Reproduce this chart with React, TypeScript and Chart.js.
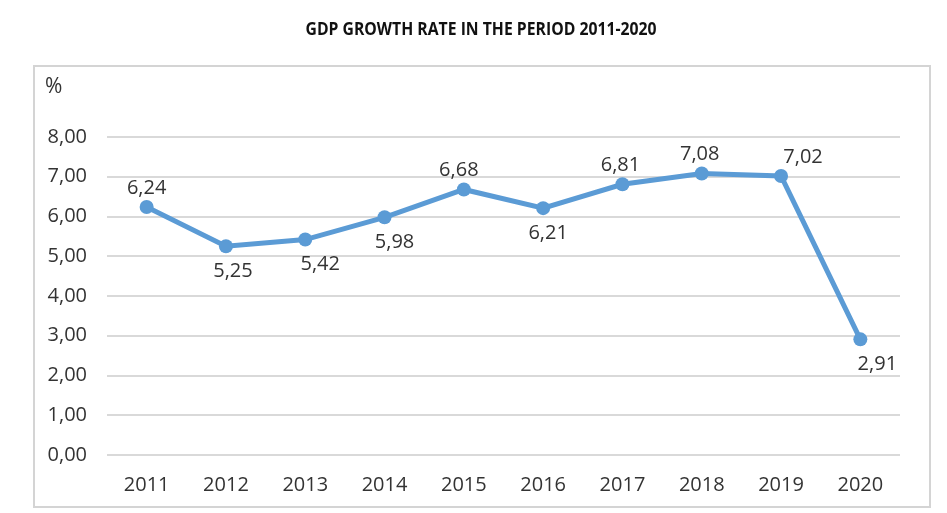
import React, { useEffect, useRef } from "react";
import { Chart, registerables } from "chart.js";

Chart.register(...registerables);

const TITLE = "GDP GROWTH RATE IN THE PERIOD 2011-2020";
const UNIT_LABEL = "%";
const YEARS = ["2011", "2012", "2013", "2014", "2015", "2016", "2017", "2018", "2019", "2020"];
const GDP_GROWTH = [6.24, 5.25, 5.42, 5.98, 6.68, 6.21, 6.81, 7.08, 7.02, 2.91];
// label placement per point: "a" above, "b" below
const LABEL_SIDE = ["a", "b", "b", "b", "a", "b", "a", "a", "a", "b"];
const LABEL_DX = [0, 7, 15, 10, -5, 5, -2, -2, 22, 17];

const FONT = "'Open Sans', sans-serif";
const TEXT_COLOR = "#333333";

const fmt = (v: number) => v.toFixed(2).replace(".", ",");

export default function App() {
  const ref = useRef<HTMLCanvasElement | null>(null);

  useEffect(() => {
    if (!ref.current) return;
    const decor = {
      id: "decor",
      beforeDraw(chart: any) {
        const ctx = chart.ctx;
        ctx.save();
        ctx.fillStyle = "#ffffff";
        ctx.fillRect(0, 0, chart.width, chart.height);
        ctx.strokeStyle = "#d4d4d4";
        ctx.lineWidth = 2;
        ctx.strokeRect(34, 66, 896, 441);
        // title
        ctx.font = `bold 17px ${FONT}`;
        ctx.fillStyle = "#111111";
        ctx.textAlign = "center";
        ctx.textBaseline = "alphabetic";
        const w = ctx.measureText(TITLE).width;
        const sx = 351 / w;
        ctx.translate(481, 35);
        ctx.scale(sx, 1);
        ctx.fillText(TITLE, 0, 0);
        ctx.restore();
        ctx.save();
        ctx.font = `21px ${FONT}`;
        ctx.fillStyle = TEXT_COLOR;
        ctx.textAlign = "left";
        ctx.textBaseline = "middle";
        ctx.fillText(UNIT_LABEL, 45, 87);
        ctx.restore();
      },
      afterDatasetsDraw(chart: any) {
        const ctx = chart.ctx;
        const meta = chart.getDatasetMeta(0);
        ctx.save();
        ctx.font = `20px ${FONT}`;
        ctx.fillStyle = TEXT_COLOR;
        ctx.textAlign = "center";
        ctx.textBaseline = "middle";
        meta.data.forEach((pt: any, i: number) => {
          const dy = LABEL_SIDE[i] === "a" ? -19 : 25;
          ctx.fillText(fmt(GDP_GROWTH[i]), pt.x + LABEL_DX[i], pt.y + dy);
        });
        ctx.restore();
      },
    };

    const chart = new Chart(ref.current, {
      type: "line",
      data: {
        labels: YEARS,
        datasets: [
          {
            data: GDP_GROWTH,
            borderColor: "#5B9BD5",
            backgroundColor: "#5B9BD5",
            borderWidth: 5,
            pointRadius: 7,
            pointBackgroundColor: "#5B9BD5",
            pointBorderColor: "#5B9BD5",
            pointBorderWidth: 0,
            tension: 0,
          },
        ],
      },
      options: {
        animation: false,
        responsive: false,
        devicePixelRatio: 1,
        layout: { padding: { left: 0, right: 47, top: 137, bottom: 0 } },
        plugins: {
          legend: { display: false },
          title: { display: false },
          tooltip: { enabled: false },
        },
        scales: {
          x: {
            offset: true,
            grid: { display: false, drawTicks: false },
            border: { display: false },
            ticks: { color: TEXT_COLOR, font: { family: FONT, size: 20 }, padding: 18, maxRotation: 0 },
            afterFit: (s: any) => {
              s.height = 58;
            },
          },
          y: {
            min: 0,
            max: 8,
            grid: { color: "#d9d9d9", lineWidth: 2, drawTicks: false },
            border: { display: false },
            ticks: {
              stepSize: 1,
              color: TEXT_COLOR,
              font: { family: FONT, size: 20 },
              padding: 20,
              callback: (v: any) => fmt(Number(v)),
            },
            afterFit: (s: any) => {
              s.width = 107;
            },
          },
        },
      },
      plugins: [decor],
    });
    return () => chart.destroy();
  }, []);

  return (
    <div style={{ position: "absolute", left: 0, top: 0, width: 947, height: 513 }}>
      <canvas ref={ref} width={947} height={513} />
    </div>
  );
}
